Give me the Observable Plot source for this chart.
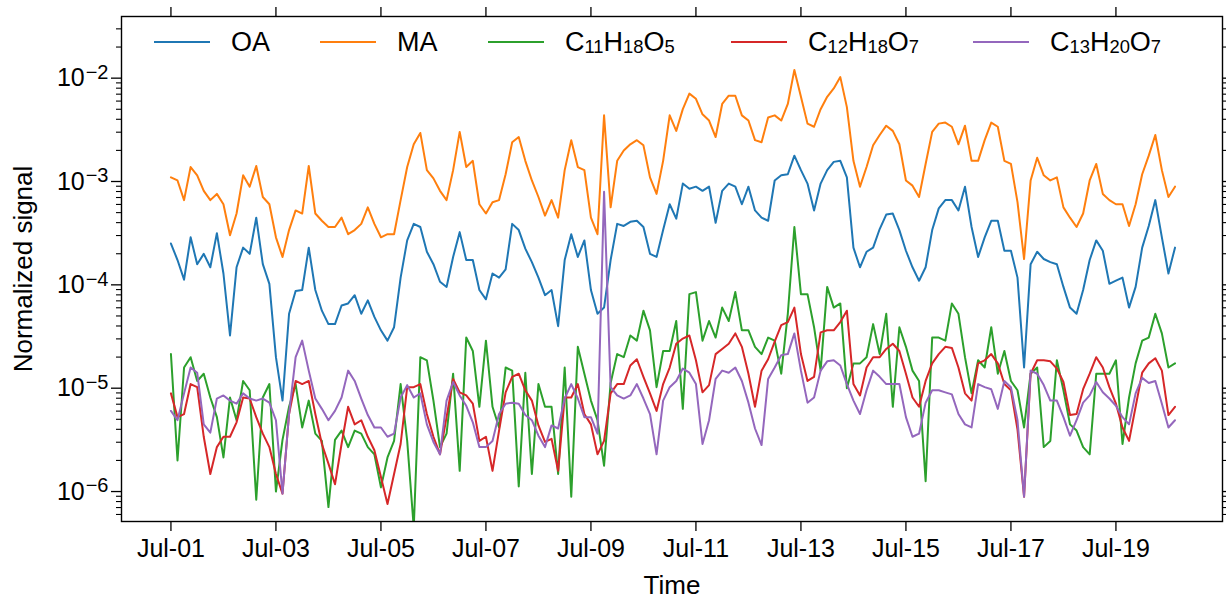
<!DOCTYPE html>
<html><head><meta charset="utf-8">
<script src="https://cdn.jsdelivr.net/npm/d3@7"></script>
<script src="https://cdn.jsdelivr.net/npm/@observablehq/plot@0.6"></script>
<style>
body{margin:0;background:#fff;font-family:"Liberation Sans",Arial,sans-serif;}
#wrap{position:relative;width:1226px;height:602px;}
#wrap svg{display:block;}
.item{position:absolute;top:26px;height:32px;display:flex;align-items:center;font-size:27px;color:#000;white-space:nowrap;}
.swatch{width:56px;height:2px;margin-right:21px;flex:none;}
sub{font-size:0.68em;vertical-align:-0.1em;line-height:0;}
</style></head><body><div id="wrap"></div>
<script>
const seriesNames = ["OA", "MA", "C11H18O5", "C12H18O7", "C13H20O7"];
const legendLabels = ["OA", "MA", "C<sub>11</sub>H<sub>18</sub>O<sub>5</sub>", "C<sub>12</sub>H<sub>18</sub>O<sub>7</sub>", "C<sub>13</sub>H<sub>20</sub>O<sub>7</sub>"];
const legendLeft = [154, 320, 488, 731, 973];
const seriesColors = ["#1f77b4", "#ff7f0e", "#2ca02c", "#d62728", "#9467bd"];
const startTime = "2021-07-01T00:00Z";
const stepHours = 3;
const xTickDates = ["2021-07-01","2021-07-03","2021-07-05","2021-07-07","2021-07-09","2021-07-11","2021-07-13","2021-07-15","2021-07-17","2021-07-19"];
const yMajorTicks = [1e-6, 1e-5, 1e-4, 1e-3, 1e-2];
const yMinorTicks = [6e-7,7e-7,8e-7,9e-7, 2e-6,3e-6,4e-6,5e-6,6e-6,7e-6,8e-6,9e-6, 2e-5,3e-5,4e-5,5e-5,6e-5,7e-5,8e-5,9e-5, 2e-4,3e-4,4e-4,5e-4,6e-4,7e-4,8e-4,9e-4, 2e-3,3e-3,4e-3,5e-3,6e-3,7e-3,8e-3,9e-3, 2e-2,3e-2];

// log10 of normalized signal, read every 3 h from Jul-01 00:00
const OA_log10 = [
-3.60,-3.76,-3.95,-3.54,-3.80,-3.70,-3.83,-3.50,
-3.89,-4.49,-3.83,-3.64,-3.70,-3.35,-3.80,-3.99,
-4.70,-5.12,-4.28,-4.06,-4.05,-3.64,-4.05,-4.25,
-4.38,-4.38,-4.20,-4.18,-4.10,-4.28,-4.15,-4.31,
-4.44,-4.54,-4.41,-3.93,-3.57,-3.41,-3.44,-3.68,
-3.80,-3.97,-4.02,-3.73,-3.49,-3.76,-3.76,-4.05,
-4.14,-3.89,-3.93,-3.85,-3.41,-3.47,-3.65,-3.78,
-3.93,-4.10,-4.05,-4.40,-3.76,-3.51,-3.73,-3.57,
-4.05,-4.28,-4.22,-3.76,-3.41,-3.43,-3.39,-3.38,
-3.44,-3.70,-3.73,-3.47,-3.22,-3.36,-3.02,-3.07,
-3.05,-3.09,-3.05,-3.40,-3.09,-3.02,-3.05,-3.22,
-3.05,-3.28,-3.35,-3.38,-2.99,-2.94,-2.93,-2.75,
-2.89,-3.02,-3.28,-3.02,-2.89,-2.81,-2.80,-2.96,
-3.64,-3.83,-3.68,-3.64,-3.46,-3.32,-3.31,-3.47,
-3.67,-3.83,-3.96,-3.83,-3.47,-3.26,-3.18,-3.18,
-3.28,-3.05,-3.44,-3.73,-3.54,-3.38,-3.38,-3.67,
-3.67,-3.93,-4.80,-3.80,-3.68,-3.75,-3.78,-3.80,
-4.02,-4.22,-4.28,-4.05,-3.76,-3.57,-3.67,-3.99,
-3.96,-3.93,-4.22,-4.02,-3.64,-3.43,-3.18,-3.54,
-3.89,-3.64];
const MA_log10 = [
-2.96,-2.99,-3.18,-2.86,-2.94,-3.09,-3.18,-3.12,
-3.22,-3.52,-3.31,-2.94,-3.05,-2.85,-3.15,-3.22,
-3.54,-3.73,-3.47,-3.28,-3.31,-2.85,-3.31,-3.38,
-3.44,-3.44,-3.35,-3.51,-3.47,-3.41,-3.25,-3.41,
-3.54,-3.51,-3.51,-3.18,-2.86,-2.64,-2.53,-2.89,
-2.97,-3.09,-3.18,-2.89,-2.52,-2.86,-2.80,-3.22,
-3.31,-3.20,-3.18,-2.93,-2.62,-2.57,-2.80,-2.99,
-3.15,-3.33,-3.18,-3.35,-2.89,-2.60,-2.86,-2.89,
-3.35,-3.51,-2.36,-3.25,-2.80,-2.70,-2.64,-2.60,
-2.65,-2.96,-3.12,-2.80,-2.36,-2.51,-2.30,-2.15,
-2.20,-2.35,-2.41,-2.57,-2.25,-2.17,-2.17,-2.36,
-2.41,-2.60,-2.62,-2.38,-2.36,-2.41,-2.25,-1.92,
-2.18,-2.44,-2.47,-2.30,-2.18,-2.10,-1.99,-2.28,
-2.80,-3.05,-2.86,-2.65,-2.55,-2.46,-2.51,-2.64,
-2.99,-3.04,-3.15,-2.83,-2.52,-2.44,-2.43,-2.47,
-2.64,-2.46,-2.80,-2.80,-2.60,-2.43,-2.47,-2.80,
-2.83,-3.20,-3.75,-2.99,-2.77,-2.94,-2.99,-2.96,
-3.25,-3.35,-3.44,-3.31,-2.99,-2.83,-3.12,-3.18,
-3.22,-3.22,-3.43,-3.22,-2.93,-2.75,-2.55,-2.89,
-3.15,-3.05];
const C11H18O5_log10 = [
-4.67,-5.70,-4.80,-4.70,-4.93,-4.86,-5.09,-5.28,
-5.67,-5.09,-5.31,-4.93,-5.02,-6.08,-5.09,-4.96,
-6.00,-5.50,-5.18,-4.96,-5.38,-5.12,-5.44,-5.51,
-6.15,-5.50,-5.41,-5.57,-5.41,-5.44,-5.57,-5.64,
-5.96,-5.67,-5.51,-4.96,-5.51,-6.35,-4.70,-4.73,
-5.12,-5.57,-5.44,-4.86,-5.80,-4.51,-4.64,-5.18,
-4.54,-5.18,-5.38,-4.80,-4.83,-5.95,-4.85,-5.83,
-4.96,-5.18,-5.18,-5.83,-4.80,-6.05,-4.60,-4.86,
-5.12,-5.31,-5.75,-4.95,-4.67,-4.70,-4.49,-4.54,
-4.25,-4.44,-4.99,-4.64,-4.64,-4.35,-5.20,-4.09,
-4.07,-4.54,-4.35,-4.51,-4.22,-4.35,-4.07,-4.44,
-4.44,-4.60,-4.67,-4.51,-4.54,-4.86,-4.28,-3.44,
-4.09,-4.09,-4.41,-4.83,-4.02,-4.22,-4.18,-5.00,
-4.76,-4.76,-4.70,-4.38,-4.67,-4.28,-5.18,-4.41,
-4.60,-4.83,-4.93,-5.90,-4.51,-4.51,-4.54,-4.18,
-4.28,-4.70,-5.05,-4.73,-4.80,-4.41,-4.86,-4.64,
-4.93,-5.02,-5.38,-4.86,-4.80,-5.57,-5.51,-4.73,
-5.02,-5.35,-5.41,-5.57,-5.64,-4.86,-4.86,-4.86,
-4.73,-5.54,-5.09,-4.76,-4.54,-4.51,-4.28,-4.47,
-4.80,-4.76];
const C12H18O7_log10 = [
-5.05,-5.28,-5.25,-4.96,-4.99,-5.47,-5.83,-5.57,
-5.47,-5.47,-5.33,-5.09,-5.10,-5.28,-5.44,-5.57,
-5.83,-6.02,-5.25,-4.93,-4.96,-4.93,-5.25,-5.54,
-5.73,-5.93,-5.54,-5.18,-5.35,-5.31,-5.47,-5.60,
-5.86,-6.12,-5.83,-5.54,-4.99,-4.99,-4.96,-5.25,
-5.47,-5.64,-5.28,-4.91,-5.04,-5.07,-5.15,-5.51,
-5.47,-5.80,-5.41,-5.04,-4.89,-4.86,-5.02,-5.12,
-5.36,-5.52,-5.49,-5.80,-5.09,-5.09,-4.96,-5.25,
-5.35,-5.64,-5.51,-5.05,-4.96,-4.96,-4.78,-4.72,
-4.89,-5.05,-5.22,-4.96,-4.80,-4.57,-4.52,-4.49,
-4.73,-5.04,-4.97,-4.67,-4.62,-4.57,-4.47,-4.60,
-4.86,-5.18,-4.83,-4.72,-4.55,-4.39,-4.36,-4.22,
-4.67,-4.93,-4.89,-4.46,-4.44,-4.44,-4.36,-4.25,
-4.96,-5.07,-4.80,-4.70,-4.70,-4.62,-4.57,-4.64,
-4.86,-5.09,-5.18,-4.93,-4.76,-4.67,-4.60,-4.61,
-4.80,-5.05,-5.12,-4.76,-4.73,-4.67,-4.76,-4.96,
-5.02,-5.40,-6.05,-4.86,-4.73,-4.73,-4.74,-4.81,
-4.94,-5.26,-5.25,-5.01,-4.86,-4.70,-4.80,-4.99,
-5.15,-5.38,-5.51,-5.18,-4.85,-4.76,-4.71,-4.83,
-5.26,-5.18];
const C13H20O7_log10 = [
-5.22,-5.31,-5.05,-4.80,-4.85,-5.35,-5.43,-5.10,
-5.07,-5.12,-5.15,-5.05,-5.10,-5.12,-5.10,-5.14,
-5.31,-6.02,-5.25,-4.70,-4.54,-4.83,-5.10,-5.20,
-5.31,-5.22,-5.09,-4.83,-4.93,-5.10,-5.26,-5.38,
-5.38,-5.47,-5.44,-5.09,-4.97,-5.09,-5.05,-5.35,
-5.52,-5.64,-5.12,-4.94,-5.07,-5.17,-5.33,-5.57,
-5.57,-5.51,-5.25,-5.15,-5.14,-5.15,-5.26,-5.31,
-5.46,-5.57,-5.36,-5.39,-5.10,-4.96,-5.10,-5.28,
-5.28,-5.44,-3.10,-4.99,-5.07,-5.10,-5.07,-4.96,
-5.10,-5.25,-5.64,-5.12,-4.99,-4.93,-4.81,-4.85,
-4.96,-5.54,-5.31,-4.91,-4.83,-4.85,-4.80,-4.93,
-5.14,-5.39,-5.55,-4.91,-4.80,-4.68,-4.67,-4.47,
-4.83,-5.14,-5.09,-4.83,-4.74,-4.73,-4.78,-4.96,
-5.12,-5.25,-5.02,-4.83,-4.89,-4.96,-4.96,-4.96,
-5.28,-5.47,-5.44,-5.14,-5.02,-5.02,-5.04,-5.06,
-5.25,-5.35,-5.38,-4.96,-4.99,-5.01,-5.20,-4.93,
-4.99,-5.31,-6.05,-4.83,-4.86,-4.97,-5.12,-5.12,
-5.28,-5.46,-5.31,-5.14,-5.07,-4.94,-5.04,-5.10,
-5.17,-5.28,-5.35,-5.05,-4.90,-4.95,-4.93,-5.15,
-5.38,-5.31];

const seriesValues = [OA_log10, MA_log10, C11H18O5_log10, C12H18O7_log10, C13H20O7_log10];
const t0 = Date.parse(startTime);
const tables = seriesValues.map((arr, s) => arr.map((v, i) => ({
  series: seriesNames[s],
  time: new Date(t0 + i * stepHours * 3600e3),
  value: Math.pow(10, v)
})));

const xTicks = xTickDates.map(d => new Date(d + "T00:00Z"));
const blank = () => "";

const plot = Plot.plot({
  width: 1226, height: 602,
  marginLeft: 121, marginRight: 4, marginTop: 16, marginBottom: 81,
  style: {fontFamily: "'Liberation Sans', Arial, sans-serif", fontSize: "25px", color: "#000", background: "#fff", overflow: "visible"},
  x: {type: "utc", domain: [new Date("2021-06-30T01:24Z"), new Date("2021-07-21T00:43Z")], label: null},
  y: {type: "log", domain: [5.13e-7, 3.95e-2], label: null},
  marks: [
    ...tables.map((tab, s) => Plot.line(tab, {x: "time", y: "value", stroke: seriesColors[s], strokeWidth: 2, strokeLinejoin: "round", clip: true})),
    Plot.frame({stroke: "#000", strokeWidth: 1.4}),
    Plot.axisX(xTicks, {anchor: "bottom", tickSize: 10, tickPadding: 8, tickFormat: d3.utcFormat("%b-%d"), fontSize: 25, strokeWidth: 1.3, label: null}),
    Plot.axisX(xTicks, {anchor: "top", tickSize: 10, tickFormat: blank, strokeWidth: 1.3, label: null}),
    Plot.axisY(yMajorTicks, {anchor: "left", tickSize: 10, tickPadding: 3, tickFormat: d => "10^" + Math.round(Math.log10(d)), fontSize: 25, strokeWidth: 1.3, label: null}),
    Plot.axisY(yMinorTicks, {anchor: "left", tickSize: 5, tickFormat: blank, strokeWidth: 1.1, label: null}),
    Plot.axisY(yMajorTicks, {anchor: "right", tickSize: 10, tickFormat: blank, strokeWidth: 1.3, label: null}),
    Plot.axisY(yMinorTicks, {anchor: "right", tickSize: 5, tickFormat: blank, strokeWidth: 1.1, label: null}),
    Plot.text(["Normalized signal"], {frameAnchor: "left", dx: -98, rotate: -90, textAnchor: "middle", lineAnchor: "middle", fontSize: 26}),
    Plot.text(["Time"], {frameAnchor: "bottom", dy: 64, textAnchor: "middle", lineAnchor: "middle", fontSize: 26})
  ]
});

// superscript exponents on the y tick labels
const svgNS = "http://www.w3.org/2000/svg";
plot.querySelectorAll('g[aria-label="y-axis tick label"] text').forEach(t => {
  const s = t.textContent;
  if (!s.startsWith("10^")) return;
  const exp = s.slice(3).replace("-", "\u2212");
  t.textContent = "";
  const a = document.createElementNS(svgNS, "tspan");
  a.textContent = "10";
  const b = document.createElementNS(svgNS, "tspan");
  b.setAttribute("dy", "-0.36em");
  b.setAttribute("dx", "1");
  b.setAttribute("font-size", "20");
  b.textContent = exp;
  t.append(a, b);
});

const wrap = document.getElementById("wrap");
wrap.appendChild(plot);
seriesNames.forEach((name, s) => {
  const item = document.createElement("div");
  item.className = "item";
  item.style.left = legendLeft[s] + "px";
  const sw = document.createElement("span");
  sw.className = "swatch";
  sw.style.background = seriesColors[s];
  const lab = document.createElement("span");
  lab.innerHTML = legendLabels[s];
  item.append(sw, lab);
  wrap.appendChild(item);
});
</script></body></html>
